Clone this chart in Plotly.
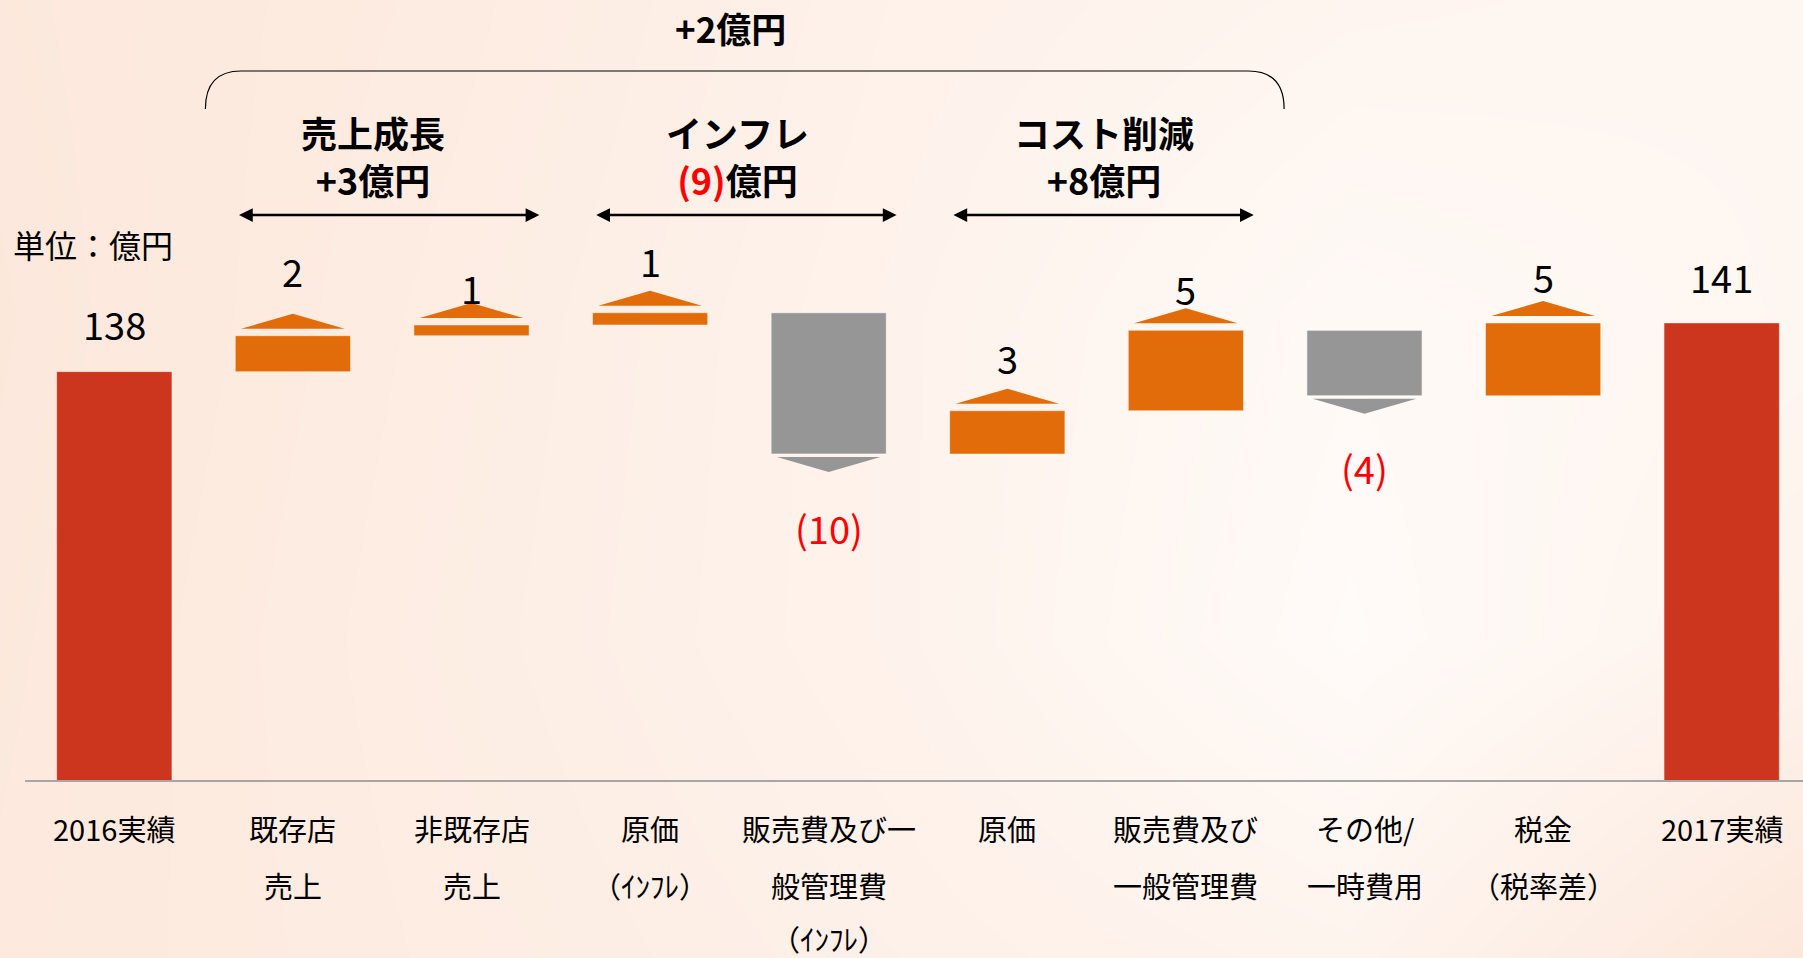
import re
import plotly.graph_objects as go

# ---------------- data ----------------
categories = [
    "2016実績",
    "既存店\n売上",
    "非既存店\n売上",
    "原価\n（ｲﾝﾌﾚ）",
    "販売費及び一\n般管理費\n（ｲﾝﾌﾚ）",
    "原価",
    "販売費及び\n一般管理費",
    "その他/\n一時費用",
    "税金\n（税率差）",
    "2017実績",
]
start_value = 138.0
changes = [2.55, 0.76, 0.87, -10.02, 3.07, 5.70, -4.64, 5.16]
value_labels = ["138", "2", "1", "1", "(10)", "3", "5", "(4)", "5", "141"]

group_names = ["売上成長", "インフレ", "コスト削減"]
group_totals = ["+3億円", "(9)億円", "+8億円"]
group_spans = [(1, 2), (3, 4), (5, 6)]
overall_label = "+2億円"
overall_span = (1, 6)
unit_label = "単位：億円"

# ---------------- style / layout constants ----------------
W, H = 1803, 958
FONT = "Noto Sans CJK JP"
RED_BAR = "#CD361E"
ORANGE = "#E36C0A"
GRAY = "#969696"
NEG_RED = "#FF0000"
PX_PER_UNIT = 14.1
AXIS_FLOOR = 109.04
PLOT_LEFT_PX = 25
PLOT_BOTTOM_PX = 780
SLOT_PX = 178.6
BAR_FRAC = 0.645
label_gap_px = [48, 43, 15, 30, 55, 31, 20, 54, 25, 47]
header_dx = [-0.05, -0.01, 0.04]
TRI_GAP_UP_PX, TRI_GAP_DOWN_PX, TRI_H_PX = 7, 3, 15
TRI_W = 0.9 * BAR_FRAC

y_top = AXIS_FLOOR + PLOT_BOTTOM_PX / PX_PER_UNIT
x_right = -0.5 + (W - PLOT_LEFT_PX) / SLOT_PX
n = len(categories)
xs = list(range(n))

# running levels
levels = [start_value]
for d in changes:
    levels.append(levels[-1] + d)
end_value = levels[-1]

fig = go.Figure()

# ---------- background gradient (pixel-space axes) ----------
bg_cols_px = [0, 450, 900, 1350, 1803]
bg_rows_px = [0, 320, 640, 958]
bg_peach_grid = [
    [0.85, 0.70, 0.45, 0.30, 0.25],
    [0.88, 0.65, 0.40, 0.12, 0.25],
    [0.85, 0.62, 0.40, 0.05, 0.40],
    [0.82, 0.66, 0.50, 0.35, 0.90],
]
fig.add_trace(go.Heatmap(
    x=bg_cols_px, y=bg_rows_px, z=bg_peach_grid, zmin=0, zmax=1,
    zsmooth="best", showscale=False, hoverinfo="skip",
    colorscale=[[0, "rgb(255,252,250)"], [1, "rgb(252,229,215)"]],
    xaxis="x", yaxis="y",
))

# ---------- waterfall bars ----------
fig.add_trace(go.Waterfall(
    x=xs,
    measure=["absolute"] + ["relative"] * len(changes) + ["total"],
    y=[start_value] + changes + [0],
    increasing=dict(marker=dict(color=ORANGE, line=dict(color="rgba(255,255,255,0.45)", width=1))),
    decreasing=dict(marker=dict(color=GRAY, line=dict(color="rgba(255,255,255,0.6)", width=1))),
    totals=dict(marker=dict(color=RED_BAR, line=dict(color="rgba(255,255,255,0.35)", width=1))),
    connector=dict(visible=False),
    textinfo="none", hoverinfo="skip",
    xaxis="x2", yaxis="y2",
))

# ---------- triangles ----------
gap_up = TRI_GAP_UP_PX / PX_PER_UNIT
gap_dn = TRI_GAP_DOWN_PX / PX_PER_UNIT
tri_h = TRI_H_PX / PX_PER_UNIT
up_x, up_y, dn_x, dn_y = [], [], [], []
label_ref = [levels[0]]
for i, d in enumerate(changes):
    xi = i + 1
    after = levels[i + 1]
    if d >= 0:
        b = after + gap_up
        up_x += [xi - TRI_W / 2, xi, xi + TRI_W / 2, xi - TRI_W / 2, None]
        up_y += [b, b + tri_h, b, b, None]
        label_ref.append(b + tri_h)
    else:
        t = after - gap_dn
        dn_x += [xi - TRI_W / 2, xi, xi + TRI_W / 2, xi - TRI_W / 2, None]
        dn_y += [t, t - tri_h, t, t, None]
        label_ref.append(t - tri_h)
label_ref.append(end_value)

for tx, ty, col in [(up_x, up_y, ORANGE), (dn_x, dn_y, GRAY)]:
    fig.add_trace(go.Scatter(
        x=tx, y=ty, mode="lines", fill="toself", fillcolor=col,
        line=dict(width=0, color=col), hoverinfo="skip", showlegend=False,
        xaxis="x2", yaxis="y2",
    ))

annotations = []

# ---------- value labels ----------
for i, lab in enumerate(value_labels):
    neg = lab.startswith("(")
    annotations.append(dict(
        x=i, y=label_ref[i], xref="x2", yref="y2", text=lab, showarrow=False,
        yanchor="middle", yshift=(-label_gap_px[i] if neg else label_gap_px[i]),
        font=dict(family=FONT, size=38, color=NEG_RED if neg else "#000000"),
    ))

# ---------- category labels ----------
row_px = [828, 885, 938]
for i, cat in enumerate(categories):
    for r, line in enumerate(cat.split("\n")):
        annotations.append(dict(
            x=i, y=row_px[r], xref="x2", yref="y", text=line, showarrow=False,
            xanchor="center", yanchor="middle",
            font=dict(family=FONT, size=29, color="#000000"),
        ))

def red_parens(s):
    return re.sub(r"^(\(\d+\))", r"<span style='color:%s'>\1</span>" % NEG_RED, s)

# ---------- group headers with double arrows ----------
for k, (name, tot, (a, b)) in enumerate(zip(group_names, group_totals, group_spans)):
    x0, x1 = a - 0.31, b + 0.38
    xc = (a + b) / 2 + header_dx[k]
    annotations.append(dict(x=xc, y=155, xref="x2", yref="y",
                            text="<b>%s<br>%s</b>" % (name, red_parens(tot)),
                            showarrow=False, align="center", yanchor="middle", borderpad=0,
                            font=dict(family=FONT, size=36, color="#000000")))
    annotations.append(dict(x=x1, y=215, ax=x0, ay=215, xref="x2", yref="y", axref="x2", ayref="y",
                            text="", showarrow=True, arrowhead=2, arrowside="end+start",
                            arrowsize=1.1, arrowwidth=2.5, arrowcolor="#000000"))

# ---------- overall bracket ----------
bx0, bx1 = overall_span[0] - 0.49, overall_span[1] + 0.55
rx = 0.2
bracket = "M %f,109 Q %f,71 %f,71 L %f,71 Q %f,71 %f,109" % (
    bx0, bx0, bx0 + rx, bx1 - rx, bx1, bx1)
shapes = [dict(type="path", path=bracket, xref="x2", yref="y",
               line=dict(color="#000000", width=1.2))]
annotations.append(dict(x=(bx0 + bx1) / 2 - 0.08, y=27, xref="x2", yref="y",
                        text="<b>%s</b>" % overall_label, showarrow=False, borderpad=0,
                        font=dict(family=FONT, size=35, color="#000000")))

# ---------- unit label ----------
annotations.append(dict(x=11, y=244, xref="x", yref="y", text=unit_label, showarrow=False,
                        xanchor="left", yanchor="middle",
                        font=dict(family=FONT, size=32, color="#000000")))

fig.update_layout(
    width=W, height=H, autosize=False,
    margin=dict(l=0, r=0, t=0, b=0, pad=0),
    paper_bgcolor="#FFFFFF", plot_bgcolor="rgba(0,0,0,0)",
    showlegend=False, hovermode=False,
    waterfallgap=1 - BAR_FRAC,
    xaxis=dict(domain=[0, 1], range=[0, W], visible=False, fixedrange=True),
    yaxis=dict(domain=[0, 1], range=[H, 0], visible=False, fixedrange=True),
    xaxis2=dict(domain=[PLOT_LEFT_PX / W, 1], range=[-0.5, x_right], anchor="y2",
                showticklabels=False, showgrid=False, zeroline=False, ticks="",
                showline=True, linecolor="#A6A6A6", linewidth=1.5),
    yaxis2=dict(domain=[(H - PLOT_BOTTOM_PX) / H, 1], range=[AXIS_FLOOR, y_top], anchor="x2",
                visible=False, showgrid=False, zeroline=False),
    annotations=annotations,
    shapes=shapes,
)

fig.write_html(
    "out.html",
    config={"displayModeBar": False},
    post_script="document.body.style.margin='0';document.body.style.overflow='hidden';",
)
